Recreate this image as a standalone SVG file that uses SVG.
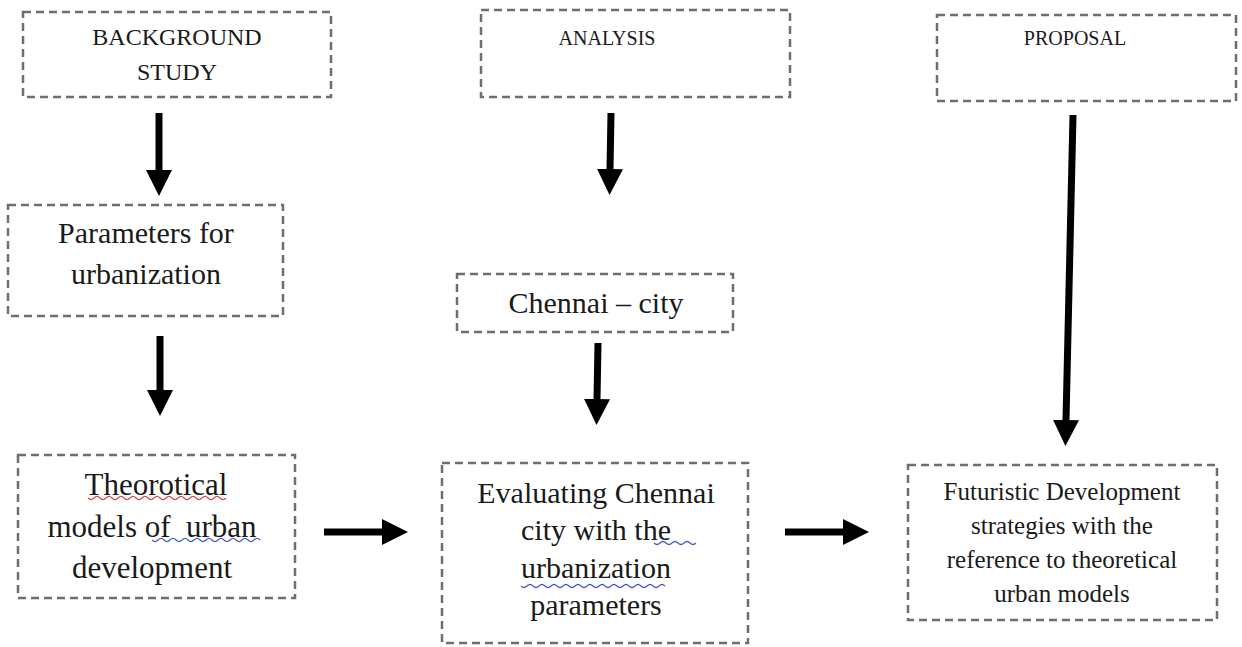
<svg xmlns="http://www.w3.org/2000/svg" width="1242" height="647" viewBox="0 0 1242 647">
  <defs>
    <style>
      .box { fill: #ffffff; stroke: #6e6e6e; stroke-width: 2.5; stroke-dasharray: 8 5; }
      .lbl { font-family: "Liberation Serif", "Times New Roman", serif; fill: #1a1a1a; text-anchor: middle; }
      .arrow { stroke: #000000; stroke-width: 7; fill: none; marker-end: url(#head); }
      .wavy-red { fill: none; stroke: #d04848; stroke-width: 1.2; }
      .wavy-blue { fill: none; stroke: #4a5cc0; stroke-width: 1.2; }
    </style>
    <marker id="head" markerUnits="userSpaceOnUse" markerWidth="26" markerHeight="26" refX="0" refY="13" orient="auto" viewBox="0 0 26 26">
      <path d="M0,0 L26,13 L0,26 Z" fill="#000000"/>
    </marker>
  </defs>

  <rect width="1242" height="647" fill="#ffffff"/>

  <g id="background-study">
    <rect class="box" x="23" y="12" width="308" height="85"/>
    <text class="lbl" x="177" y="45" font-size="24">BACKGROUND</text>
    <text class="lbl" x="177" y="80" font-size="24">STUDY</text>
  </g>

  <g id="analysis">
    <rect class="box" x="481" y="10" width="309" height="87"/>
    <text class="lbl" x="607" y="45" font-size="20">ANALYSIS</text>
  </g>

  <g id="proposal">
    <rect class="box" x="937" y="15" width="299" height="86"/>
    <text class="lbl" x="1075" y="45" font-size="20">PROPOSAL</text>
  </g>

  <g id="parameters">
    <rect class="box" x="8" y="205" width="275" height="111"/>
    <text class="lbl" x="146" y="243" font-size="30">Parameters for</text>
    <text class="lbl" x="146" y="284" font-size="30">urbanization</text>
  </g>

  <g id="chennai-city">
    <rect class="box" x="457" y="274" width="276" height="58"/>
    <text class="lbl" x="596" y="313" font-size="30">Chennai – city</text>
  </g>

  <g id="theoretical-models">
    <rect class="box" x="18" y="455" width="277" height="143"/>
    <text class="lbl" x="156" y="495" font-size="31">Theorotical</text>
    <text class="lbl" x="152" y="537" font-size="31" xml:space="preserve">models of  urban</text>
    <text class="lbl" x="152" y="578" font-size="31">development</text>
    <path class="wavy-red" d="M88,498 q3,3 6,0 t6,0 t6,0 t6,0 t6,0 t6,0 t6,0 t6,0 t6,0 t6,0 t6,0 t6,0 t6,0 t6,0 t6,0 t6,0 t6,0 t6,0 t6,0 t6,0 t6,0 t6,0 t6,0"/>
    <path class="wavy-blue" d="M152,540 q3,3 6,0 t6,0 t6,0 t6,0 t6,0 t6,0 t6,0 t6,0 t6,0 t6,0 t6,0 t6,0 t6,0 t6,0 t6,0 t6,0 t6,0 t6,0"/>
  </g>

  <g id="evaluating">
    <rect class="box" x="442" y="463" width="306" height="180"/>
    <text class="lbl" x="596" y="503" font-size="30">Evaluating Chennai</text>
    <text class="lbl" x="596" y="540" font-size="30">city with the</text>
    <text class="lbl" x="596" y="578" font-size="30">urbanization</text>
    <text class="lbl" x="596" y="615" font-size="30">parameters</text>
    <path class="wavy-blue" d="M654,543 q3,3 6,0 t6,0 t6,0 t6,0 t6,0 t6,0 t6,0"/>
    <path class="wavy-blue" d="M521,586 q3,3 6,0 t6,0 t6,0 t6,0 t6,0 t6,0 t6,0 t6,0 t6,0 t6,0 t6,0 t6,0 t6,0 t6,0 t6,0 t6,0 t6,0 t6,0 t6,0 t6,0 t6,0 t6,0 t6,0 t6,0"/>
  </g>

  <g id="futuristic">
    <rect class="box" x="908" y="465" width="309" height="155"/>
    <text class="lbl" x="1062" y="500" font-size="25">Futuristic Development</text>
    <text class="lbl" x="1062" y="534" font-size="25">strategies with the</text>
    <text class="lbl" x="1062" y="568" font-size="25">reference to theoretical</text>
    <text class="lbl" x="1062" y="602" font-size="25">urban models</text>
  </g>

  <g id="connectors">
    <line class="arrow" x1="159" y1="113" x2="159" y2="170"/>
    <line class="arrow" x1="611" y1="113" x2="610" y2="169"/>
    <line class="arrow" x1="160" y1="336" x2="160" y2="390"/>
    <line class="arrow" x1="598" y1="343" x2="597" y2="399"/>
    <line class="arrow" x1="1073" y1="115" x2="1066" y2="420"/>
    <line class="arrow" x1="324" y1="532" x2="382" y2="532"/>
    <line class="arrow" x1="785" y1="532" x2="843" y2="532"/>
  </g>
</svg>
